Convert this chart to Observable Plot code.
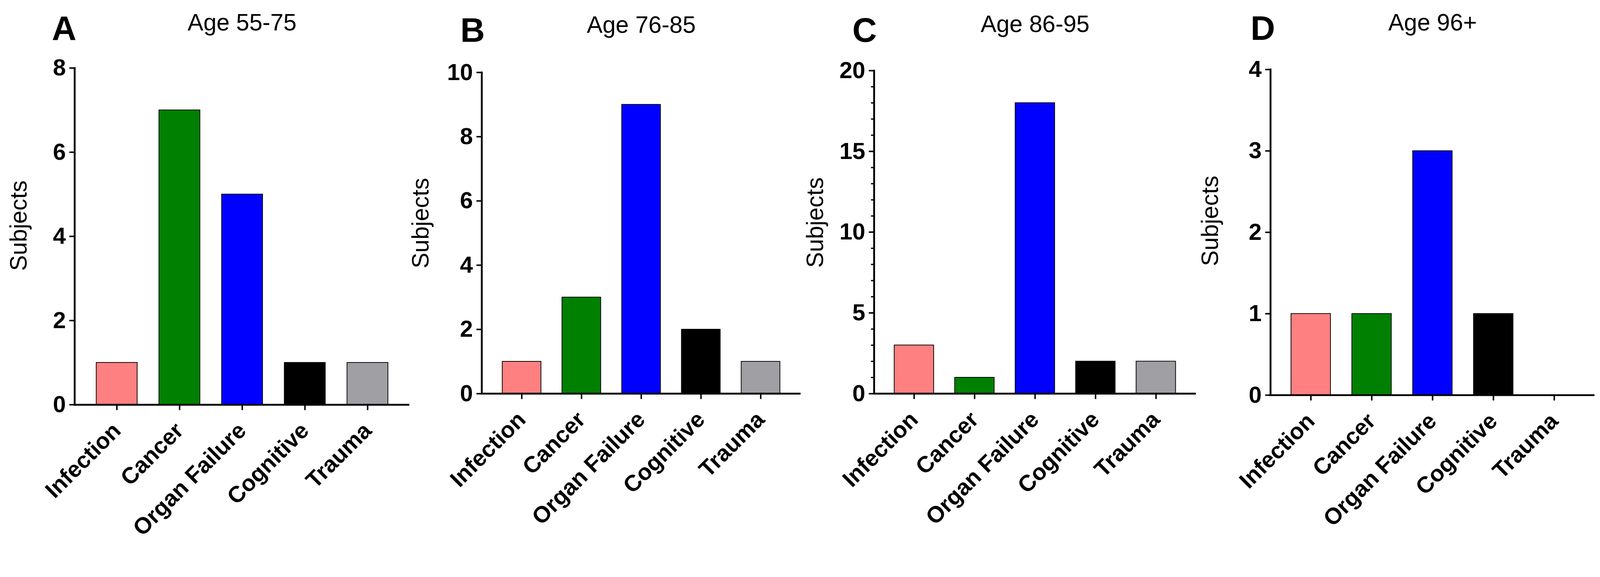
<!DOCTYPE html>
<html><head><meta charset="utf-8">
<script src="https://cdn.jsdelivr.net/npm/d3@7"></script>
<script src="https://cdn.jsdelivr.net/npm/@observablehq/plot@0.6"></script>
<style>
html,body{margin:0;padding:0;background:#fff;overflow:hidden}
#stage{position:absolute;left:0;top:0;width:4339px;height:1477px;transform-origin:0 0;background:#fff}
.panel{position:absolute;top:0}
</style></head><body>
<div id="stage"></div>
<script>
// ---- data ----
const categories = ["Infection", "Cancer", "Organ Failure", "Cognitive", "Trauma"];
const barColors = ["#FF8080", "#008000", "#0000FF", "#000000", "#A0A0A4"];
const panelLetters = ["A", "B", "C", "D"];
const panelTitles = ["Age 55-75", "Age 76-85", "Age 86-95", "Age 96+"];
const valuesA = [1, 7, 5, 1, 1];
const valuesB = [1, 3, 9, 2, 1];
const valuesC = [3, 1, 18, 2, 2];
const valuesD = [1, 1, 3, 1, 0];
const yMaxes = [8, 10, 20, 4];
const yTicksA = [0, 2, 4, 6, 8];
const yTicksB = [0, 2, 4, 6, 8, 10];
const yTicksC = [0, 5, 10, 15, 20];
const yTicksD = [0, 1, 2, 3, 4];
const minorTicksC = d3.range(0, 21);
const yLabel = "Subjects";

// ---- layout (pixel geometry of each panel) ----
const layouts = [
  {left: 0,    width: 1112, marginLeft: 202, top: 184, zero: 1097, letterDx: -62, letterBase: 108, titleBase: 82, labelDx: -151, labelDy: -29},
  {left: 1110, width: 1063, marginLeft: 196, top: 196, zero: 1067, letterDx: -58, letterBase: 113, titleBase: 89, labelDx: -165, labelDy: -27},
  {left: 2175, width: 1070, marginLeft: 195, top: 191, zero: 1067, letterDx: -59, letterBase: 113, titleBase: 86, labelDx: -159, labelDy: -26},
  {left: 3250, width: 1076, marginLeft: 195, top: 188, zero: 1071, letterDx: -54, letterBase: 108, titleBase: 82, labelDx: -163, labelDy: -31}
];
const allValues = [valuesA, valuesB, valuesC, valuesD];
const allTicks = [yTicksA, yTicksB, yTicksC, yTicksD];
const minorTicks = [null, null, minorTicksC, null];

const W = 4339, H = 1477;
const font = "'Liberation Sans', Arial, Helvetica, sans-serif";
const stage = document.getElementById("stage");

layouts.forEach((L, i) => {
  const data = categories.map((c, j) => ({category: c, value: allValues[i][j]}));
  const marks = [
    Plot.barY(data, {x: "category", y: "value", fill: "category", stroke: "black", strokeWidth: 2}),
    Plot.frame({anchor: "left", strokeWidth: 5, stroke: "black"}),
    Plot.ruleY([0], {strokeWidth: 5, stroke: "black"}),
    Plot.axisY(allTicks[i], {tickSize: 14, tickPadding: 10, strokeWidth: 4, fontSize: 63, fontWeight: "bold", tickFormat: d3.format("d"), label: null}),
    Plot.axisX({tickSize: 15, tickRotate: -45, tickPadding: 45, strokeWidth: 4, fontSize: 62, fontWeight: "bold", label: null}),
    Plot.text([yLabel], {frameAnchor: "left", text: d => d, rotate: -90, dx: L.labelDx, dy: L.labelDy, fontSize: 64, fontWeight: "normal", textAnchor: "middle"}),
    Plot.text([panelLetters[i]], {frameAnchor: "top-left", text: d => d, dx: L.letterDx, dy: -(L.top - L.letterBase), lineAnchor: "bottom", textAnchor: "start", fontSize: 92, fontWeight: "bold"}),
    Plot.text([panelTitles[i]], {frameAnchor: "top", text: d => d, dy: -(L.top - L.titleBase), lineAnchor: "bottom", textAnchor: "middle", fontSize: 64, fontWeight: "normal"})
  ];
  if (minorTicks[i]) {
    marks.push(Plot.axisY(minorTicks[i], {tickSize: 8, strokeWidth: 3.5, tickFormat: () => "", label: null}));
  }
  const chart = Plot.plot({
    width: L.width,
    height: H,
    marginLeft: L.marginLeft,
    marginRight: 2,
    marginTop: L.top,
    marginBottom: H - L.zero,
    x: {domain: categories, paddingInner: 0.35, paddingOuter: 0.33},
    y: {domain: [0, yMaxes[i]]},
    color: {domain: categories, range: barColors},
    style: {fontFamily: font, color: "black", background: "transparent", overflow: "visible"},
    marks
  });
  const wrap = document.createElement("div");
  wrap.className = "panel";
  wrap.style.left = L.left + "px";
  wrap.appendChild(chart);
  stage.appendChild(wrap);
});

// fit the 4339x1477 stage into the actual viewport
function fit() {
  const vw = document.documentElement.clientWidth || window.innerWidth;
  const vh = document.documentElement.clientHeight || window.innerHeight;
  const k = Math.min(vw / W, vh / H);
  stage.style.transform = Math.abs(k - 1) > 0.002 ? `scale(${k})` : "none";
}
fit();
window.addEventListener("resize", fit);
</script>
</body></html>
